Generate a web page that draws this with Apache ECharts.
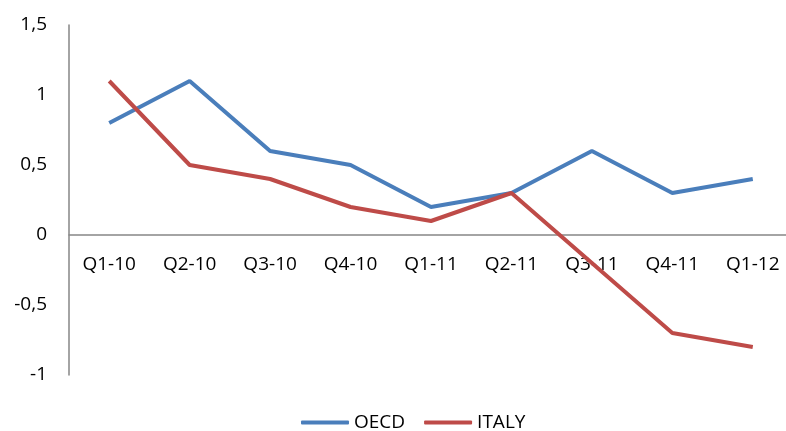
<!DOCTYPE html>
<html><head><meta charset="utf-8">
<script src="https://cdn.jsdelivr.net/npm/echarts@6/dist/echarts.min.js"></script>
<style>html,body{margin:0;padding:0;background:#fff}#c{width:786px;height:431px}</style>
</head><body><div id="c"></div>
<script>
var categories = ['Q1-10','Q2-10','Q3-10','Q4-10','Q1-11','Q2-11','Q3-11','Q4-11','Q1-12'];
var oecd = [0.8, 1.1, 0.6, 0.5, 0.2, 0.3, 0.6, 0.3, 0.4];
var italy = [1.1, 0.5, 0.4, 0.2, 0.1, 0.3, -0.2, -0.7, -0.8];
var font = 'Open Sans, Liberation Sans, sans-serif';
var chart = echarts.init(document.getElementById('c'));
chart.setOption({
  animation: false,
  grid: {left: 69, right: -7, top: 25, bottom: 56, outerBoundsMode: 'none', containLabel: false},
  legend: {
    top: 408, left: 296, itemWidth: 48, itemHeight: 4, itemGap: 19,
    icon: 'roundRect',
    textStyle: {fontFamily: font, fontSize: 19, color: '#000', padding: [0,0,0,0]},
    data: ['OECD','ITALY']
  },
  xAxis: {
    type: 'category', data: categories, boundaryGap: true,
    position: 'bottom', offset: -140,
    axisLine: {onZero: false, lineStyle: {color: '#868686', width: 1.5}},
    axisTick: {show: false},
    axisLabel: {fontFamily: font, fontSize: 19, color: '#000', margin: 20, interval: 0}
  },
  yAxis: {
    type: 'value', min: -1, max: 1.5, interval: 0.5,
    axisLine: {show: true, lineStyle: {color: '#868686', width: 1.5}},
    axisTick: {show: false},
    splitLine: {show: false},
    axisLabel: {fontFamily: font, fontSize: 19, color: '#000', margin: 22,
      formatter: function(v){ return String(v).replace('.', ','); }}
  },
  series: [
    {name: 'OECD', type: 'line', data: oecd, symbol: 'none', lineStyle: {width: 4, color: '#4A7EBB'}, itemStyle: {color: '#4A7EBB'}},
    {name: 'ITALY', type: 'line', data: italy, symbol: 'none', lineStyle: {width: 4, color: '#BE4B48'}, itemStyle: {color: '#BE4B48'}}
  ]
});
</script></body></html>
